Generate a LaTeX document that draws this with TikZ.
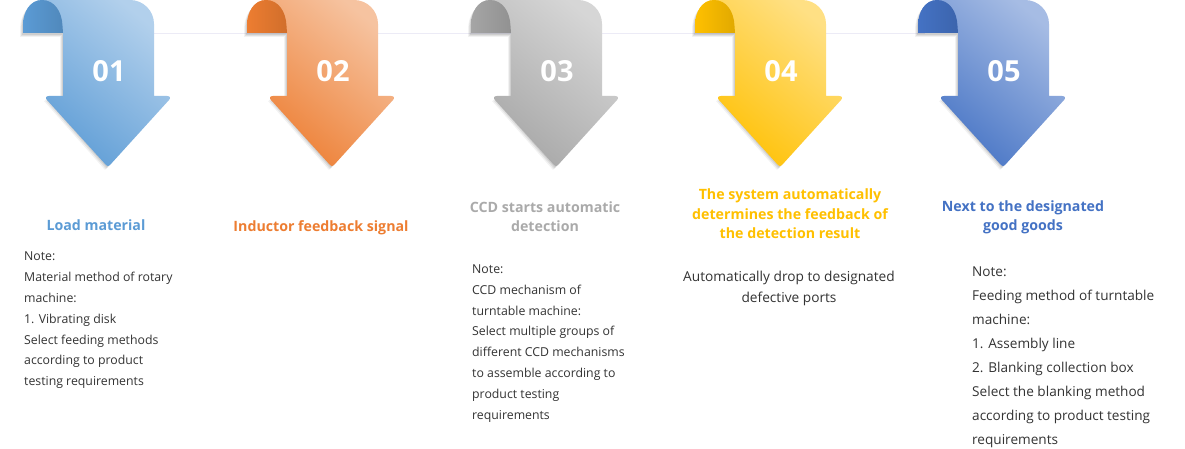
\documentclass[tikz,border=0pt]{standalone}
\usepackage{fontspec}
\setmainfont{Open Sans}
\usetikzlibrary{calc}
\definecolor{bA}{HTML}{5B9BD5}\definecolor{bAl}{HTML}{B2D0EC}
\definecolor{oA}{HTML}{ED7D31}\definecolor{oAl}{HTML}{F6C3A0}
\definecolor{gA}{HTML}{A5A5A5}\definecolor{gAl}{HTML}{D6D6D6}
\definecolor{yA}{HTML}{FFC000}\definecolor{yAl}{HTML}{FFE084}
\definecolor{nA}{HTML}{4472C4}\definecolor{nAl}{HTML}{A6BCE4}
\definecolor{bodytxt}{HTML}{333333}
\definecolor{rulecol}{HTML}{ECEBF6}
\tikzset{
  numtxt/.style={text=white,font=\bfseries\fontsize{29}{29}\selectfont,inner sep=0},
  titletxt/.style={font=\bfseries\fontsize{14.2}{19.2}\selectfont,align=center,inner sep=0},
  bodyA/.style={text=bodytxt,font=\fontsize{12.3}{20.8}\selectfont,align=left,inner sep=0},
  bodyB/.style={text=bodytxt,font=\fontsize{13.6}{24}\selectfont,align=left,inner sep=0},
}
\newcommand\flowarrow[5]{%
\begin{scope}[shift={(#1,0)}]
  \foreach \s/\o in {3/0.05,2/0.07,1/0.08}{
  \fill[black,opacity=\o,shift={(-\s,\s+1)}]
    (-45,33) -- (-45,97) -- (-61,97) -- (0,166) -- (61,97) -- (46,97) -- (46,24)
    .. controls (46,10.7) and (35.3,0) .. (22,0) -- (-66,0)
    .. controls (-78,0) and (-85,12) .. (-85,26) -- (-85,33) -- cycle;}
  \shade[top color=#3, bottom color=#2, shading angle=-40]
    (-45,33) -- (-45,96) -- (-59,96) .. controls (-62,96) and (-63,98) .. (-61,100)
    -- (-2,165) .. controls (-1,166.5) and (1,166.5) .. (2,165)
    -- (61,100) .. controls (63,98) and (62,96) .. (59,96) -- (46,96) -- (46,24)
    .. controls (46,10.7) and (35.3,0) .. (22,0) -- (-66,0)
    .. controls (-78,0) and (-85,12) .. (-85,26) -- (-85,33) -- cycle;
  \shade[left color=#2, right color=#2!88!black]
    (-85,33) -- (-85,26) .. controls (-85,12) and (-78,0) .. (-66,0)
    .. controls (-54,0) and (-46,11) .. (-45.5,26) -- (-45,33) -- cycle;
  \node[numtxt] (#5) at (1,71) {#4};
\end{scope}}
\begin{document}
\begin{tikzpicture}[x=1pt,y=-1pt]
\useasboundingbox (0,0) rectangle (1185,449);
\fill[white] (0,0) rectangle (1185,449);
\draw[rulecol,line width=0.8pt] (150,33) -- (925,33);
\flowarrow{108}{bA}{bAl}{01}{n1}
\flowarrow{332}{oA}{oAl}{02}{n2}
\flowarrow{556}{gA}{gAl}{03}{n3}
\flowarrow{780}{yA}{yAl}{04}{n4}
\flowarrow{1003}{nA}{nAl}{05}{n5}
% titles
\node[titletxt,text=bA,anchor=base] (t1) at (96,230) {Load material};
\node[titletxt,text=oA,anchor=base] (t2) at (321,231) {Inductor feedback signal};
\node[titletxt,text=gA!95!white,anchor=north] (t3) at (545,201.5) {CCD starts automatic\\detection};
\node[titletxt,text=yA,anchor=north] (t4) at (790,189) {The system automatically\\determines the feedback of\\the detection result};
\node[titletxt,text=nA,anchor=north] (t5) at (1023,200.5) {Next to the designated\\good goods};
% bodies
\node[bodyA,anchor=north west] (d1) at (24,252) {Note:\\Material method of rotary\\machine:\\1. Vibrating disk\\Select feeding methods\\according to product\\testing requirements};
\node[bodyA,anchor=north west] (d3) at (472,264.5) {Note:\\CCD mechanism of\\turntable machine:\\Select multiple groups of\\different CCD mechanisms\\to assemble according to\\product testing\\requirements};
\node[bodyA,font=\fontsize{13.7}{21}\selectfont,align=center,anchor=north] (d4) at (789,271) {Automatically drop to designated\\defective ports};
\node[bodyB,anchor=north west] (d5) at (972,266.5) {Note:\\Feeding method of turntable\\machine:\\1. Assembly line\\2. Blanking collection box\\Select the blanking method\\according to product testing\\requirements};
\end{tikzpicture}
\end{document}
